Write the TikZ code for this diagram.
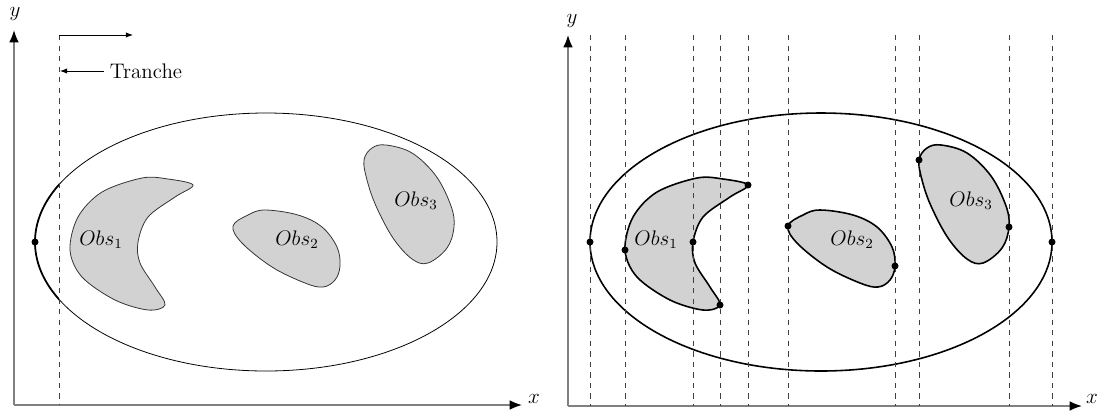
\documentclass[tikz,border=0pt]{standalone}
\usetikzlibrary{arrows.meta}
% les trois obstacles, dans le repere du panneau de gauche
\newcommand{\obstacles}[2]{%
  \filldraw[#1] plot[smooth cycle, tension=0.55] coordinates {(193,185) (175,197) (148,217) (138,242) (140,263) (155,287) (165,305) (148,310) (115,300) (82,277) (70,250) (78,217) (102,192) (142,178) (168,179)};
  \filldraw[#1] plot[smooth cycle, tension=0.6] coordinates {(233,226) (248,215) (265,210) (298,215) (322,227) (337,247) (340,266) (335,280) (323,287) (305,283) (272,267) (242,243)};
  \filldraw[#1] plot[smooth cycle, tension=0.6] coordinates {(364,160) (372,148) (386,145) (412,153) (436,176) (451,206) (454,227) (447,248) (428,263) (412,259) (393,238) (376,206) (367,180)};
  \node (obsa#2) at (101,240) {$Obs_1$};
  \node (obsb#2) at (297,240) {$Obs_2$};
  \node (obsc#2) at (416,201) {$Obs_3$};}

\begin{document}
\begin{tikzpicture}[x=0.02cm, y=-0.02cm, font=\fontsize{12}{14}\selectfont,
  axis/.style={draw=gray, line width=0.9pt, -{Latex[length=7pt, width=5.5pt, color=black]}},
  axlab/.style={anchor=west, inner sep=0.5pt},
  obs/.style={fill=gray!35, draw=black!80, line width=0.45pt},
  obsthick/.style={obs, draw=black, line width=0.9pt},
  slice/.style={dashed, draw=black!75, line width=0.5pt},
  small/.style={line width=0.5pt, -{Latex[length=4pt, width=3pt]}}]
  \useasboundingbox (0,0) rectangle (1101,410);
  % panneau de gauche : une tranche
  \coordinate (oa) at (14,405);
  \coordinate (ya) at (14,30);
  \coordinate (xa) at (522,405);
  \draw[axis] (oa) -- (ya);
  \draw[axis] (oa) -- (xa);
  \node (ylab) at (15,14) {$y$};
  \node[axlab] (xlab) at (527,399) {$x$};
  \draw[line width=0.45pt] (266,242) ellipse [x radius=231, y radius=129];
  \begin{scope}
    \clip (0,0) rectangle (59,410);
    \draw[line width=1pt] (266,242) ellipse [x radius=231, y radius=129];
  \end{scope}
  \obstacles{obs}{l}
  \coordinate (st) at (59,35);
  \coordinate (sb) at (59,405);
  \coordinate (sd) at (133,35);
  \coordinate (sm) at (60,71);
  \draw[slice] (st) -- (sb);
  \draw[small] (st) -- (sd);
  \node (tra) at (146,71) {Tranche};
  \draw[small] (tra.west) -- (sm);
  \fill (35,242) circle (3.5);
  % panneau de droite : toutes les tranches
  \coordinate (ob) at (568,406);
  \coordinate (yb) at (568,35);
  \coordinate (xb) at (1082,406);
  \draw[axis] (ob) -- (yb);
  \draw[axis] (ob) -- (xb);
  \node (ylabb) at (572,21) {$y$};
  \node[axlab] (xlabb) at (1085,399) {$x$};
  \begin{scope}[shift={(555,0)}]
    \draw[line width=0.9pt] (266,242) ellipse [x radius=231, y radius=129];
    \obstacles{obsthick}{r}
    \foreach \x in {35,70,138,165,193,233,340,364,454,497}
      \draw[slice] (\x,35) -- (\x,406);
    \foreach \p in {(35,242),(70,250),(138,242),(165,305),(193,185),(233,226),(340,266),(364,160),(454,227),(497,242)}
      \fill \p circle (3.5);
  \end{scope}
\end{tikzpicture}
\end{document}
